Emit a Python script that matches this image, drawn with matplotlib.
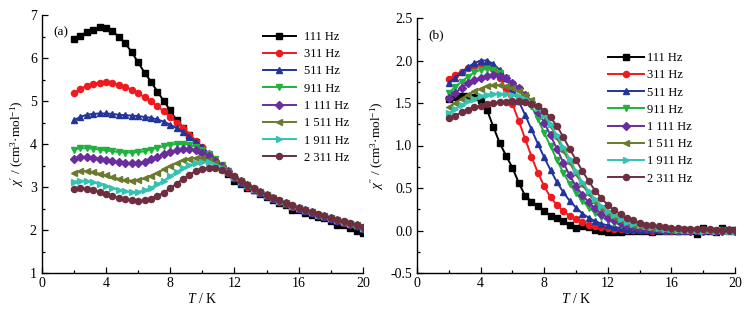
import matplotlib
matplotlib.use("Agg")
import matplotlib.pyplot as plt
from matplotlib.ticker import MultipleLocator

plt.rcParams['font.family'] = ['Liberation Serif', 'DejaVu Serif']
plt.rcParams['mathtext.fontset'] = 'custom'
plt.rcParams['mathtext.rm'] = 'Liberation Serif'
plt.rcParams['mathtext.it'] = 'Liberation Serif:italic'

# ---------------- data ----------------
T = [2.0, 2.4, 2.8, 3.2, 3.6, 4.0, 4.4, 4.8, 5.2, 5.6, 6.0, 6.4, 6.8, 7.2, 7.6, 8.0,
     8.4, 8.8, 9.2, 9.6, 10.0, 10.4, 10.8, 11.2, 11.6, 12.0, 12.4, 12.8, 13.2, 13.6,
     14.0, 14.4, 14.8, 15.2, 15.6, 16.0, 16.4, 16.8, 17.2, 17.6, 18.0, 18.4, 18.8,
     19.2, 19.6, 20.0]

labels = ["111 Hz", "311 Hz", "511 Hz", "911 Hz", "1 111 Hz", "1 511 Hz", "1 911 Hz", "2 311 Hz"]
colors = ["#000000", "#f0191e", "#23349b", "#1fb23c", "#6a2d9e", "#6b7a2c", "#36c2b0", "#6e2e40"]
markers = ["s", "o", "^", "v", "D", "<", ">", "o"]

# chi' (left panel)
chi1_111 = [6.45, 6.52, 6.60, 6.66, 6.71, 6.69, 6.62, 6.50, 6.34, 6.14, 5.90, 5.66, 5.45, 5.22, 5.00, 4.78,
            4.55, 4.38, 4.22, 4.05, 3.88, 3.70, 3.56, 3.42, 3.30, 3.15, 3.08, 2.98, 2.92, 2.84,
            2.76, 2.70, 2.62, 2.58, 2.46, 2.46, 2.40, 2.36, 2.30, 2.27, 2.22, 2.12, 2.11, 2.05, 1.98, 1.93]
chi1_311 = [5.18, 5.28, 5.35, 5.40, 5.43, 5.44, 5.42, 5.38, 5.33, 5.26, 5.18, 5.09, 4.99, 4.88, 4.76, 4.63,
            4.50, 4.37, 4.22, 4.07, 3.92, 3.77, 3.62, 3.48, 3.35, 3.20, 3.10, 3.01, 2.93, 2.86,
            2.79, 2.72, 2.66, 2.60, 2.54, 2.49, 2.44, 2.39, 2.34, 2.30, 2.25, 2.21, 2.17, 2.13, 2.09, 2.02]
chi1_511 = [4.55, 4.63, 4.68, 4.70, 4.71, 4.71, 4.70, 4.68, 4.67, 4.66, 4.65, 4.63, 4.61, 4.57, 4.52, 4.45,
            4.37, 4.28, 4.17, 4.05, 3.92, 3.78, 3.64, 3.50, 3.36, 3.20, 3.10, 3.02, 2.94, 2.87,
            2.80, 2.73, 2.67, 2.61, 2.55, 2.50, 2.45, 2.40, 2.35, 2.31, 2.26, 2.22, 2.18, 2.14, 2.10, 2.03]
chi1_911 = [3.87, 3.90, 3.90, 3.89, 3.87, 3.85, 3.83, 3.81, 3.80, 3.80, 3.81, 3.83, 3.87, 3.91, 3.95, 3.98,
            4.00, 4.00, 3.98, 3.93, 3.85, 3.76, 3.65, 3.52, 3.38, 3.24, 3.13, 3.04, 2.96, 2.88,
            2.81, 2.74, 2.68, 2.62, 2.56, 2.51, 2.46, 2.41, 2.36, 2.32, 2.27, 2.23, 2.19, 2.15, 2.11, 2.05]
chi1_1111 = [3.65, 3.69, 3.70, 3.68, 3.65, 3.62, 3.60, 3.57, 3.55, 3.55, 3.56, 3.59, 3.64, 3.70, 3.76, 3.81,
             3.86, 3.88, 3.88, 3.85, 3.79, 3.71, 3.61, 3.50, 3.37, 3.24, 3.13, 3.04, 2.96, 2.88,
             2.81, 2.74, 2.68, 2.62, 2.56, 2.51, 2.46, 2.41, 2.36, 2.32, 2.27, 2.23, 2.19, 2.15, 2.11, 2.05]
chi1_1511 = [3.33, 3.37, 3.37, 3.35, 3.31, 3.27, 3.23, 3.19, 3.16, 3.15, 3.16, 3.20, 3.26, 3.33, 3.41, 3.49,
             3.56, 3.62, 3.66, 3.68, 3.67, 3.63, 3.56, 3.47, 3.36, 3.24, 3.13, 3.04, 2.96, 2.88,
             2.81, 2.74, 2.68, 2.62, 2.56, 2.51, 2.46, 2.41, 2.36, 2.32, 2.27, 2.23, 2.19, 2.15, 2.11, 2.05]
chi1_1911 = [3.12, 3.15, 3.14, 3.11, 3.07, 3.02, 2.97, 2.93, 2.90, 2.88, 2.89, 2.92, 2.98, 3.06, 3.15, 3.25,
             3.35, 3.44, 3.51, 3.56, 3.58, 3.57, 3.52, 3.45, 3.35, 3.24, 3.13, 3.04, 2.96, 2.88,
             2.81, 2.74, 2.68, 2.62, 2.56, 2.51, 2.46, 2.41, 2.36, 2.32, 2.27, 2.23, 2.19, 2.15, 2.11, 2.05]
chi1_2311 = [2.95, 2.97, 2.96, 2.93, 2.89, 2.84, 2.79, 2.75, 2.71, 2.69, 2.68, 2.69, 2.73, 2.79, 2.87, 2.97,
             3.08, 3.19, 3.29, 3.37, 3.43, 3.45, 3.44, 3.40, 3.33, 3.25, 3.14, 3.05, 2.97, 2.89,
             2.82, 2.75, 2.69, 2.63, 2.57, 2.52, 2.47, 2.42, 2.37, 2.33, 2.28, 2.24, 2.20, 2.16, 2.12, 2.06]

# chi'' (right panel)
chi2_111 = [1.55, 1.57, 1.58, 1.58, 1.57, 1.53, 1.42, 1.22, 1.03, 0.88, 0.74, 0.56, 0.41, 0.34, 0.29, 0.23,
            0.17, 0.15, 0.11, 0.07, 0.03, 0.05, 0.04, 0.01, 0.00, -0.02, -0.02, -0.02, -0.01, -0.01,
            0.00, -0.01, -0.02, 0.00, 0.01, -0.01, 0.00, 0.01, -0.01, -0.04, 0.03, 0.00, -0.02, 0.03, 0.01, 0.01]
chi2_311 = [1.78, 1.83, 1.87, 1.91, 1.94, 1.96, 1.95, 1.90, 1.80, 1.66, 1.49, 1.29, 1.08, 0.87, 0.68, 0.52,
            0.39, 0.30, 0.23, 0.17, 0.13, 0.10, 0.07, 0.05, 0.04, 0.03, 0.02, 0.02, 0.01, 0.01,
            0.01, 0.01, 0.00, 0.01, 0.00, 0.00, 0.01, 0.00, 0.00, 0.01, 0.00, 0.01, 0.00, 0.00, 0.01, 0.00]
chi2_511 = [1.73, 1.80, 1.86, 1.92, 1.97, 2.00, 2.00, 1.96, 1.89, 1.79, 1.66, 1.52, 1.36, 1.19, 1.02, 0.86,
            0.71, 0.57, 0.45, 0.35, 0.27, 0.20, 0.15, 0.11, 0.08, 0.06, 0.04, 0.03, 0.02, 0.02,
            0.01, 0.01, 0.01, 0.01, 0.00, 0.01, 0.00, 0.00, 0.01, 0.00, 0.00, 0.01, 0.00, 0.01, 0.00, 0.00]
chi2_911 = [1.62, 1.69, 1.75, 1.81, 1.86, 1.89, 1.90, 1.89, 1.85, 1.79, 1.72, 1.66, 1.58, 1.46, 1.31, 1.15,
            0.99, 0.83, 0.68, 0.55, 0.44, 0.35, 0.27, 0.21, 0.16, 0.12, 0.09, 0.07, 0.05, 0.04,
            0.03, 0.02, 0.02, 0.01, 0.01, 0.01, 0.01, 0.00, 0.01, 0.00, 0.01, 0.00, 0.00, 0.01, 0.00, 0.00]
chi2_1111 = [1.56, 1.62, 1.68, 1.73, 1.77, 1.80, 1.82, 1.83, 1.82, 1.79, 1.74, 1.68, 1.60, 1.51, 1.40, 1.27,
             1.12, 0.96, 0.80, 0.65, 0.52, 0.42, 0.33, 0.26, 0.20, 0.15, 0.12, 0.09, 0.07, 0.05,
             0.04, 0.03, 0.02, 0.02, 0.01, 0.01, 0.01, 0.01, 0.00, 0.01, 0.00, 0.01, 0.00, 0.00, 0.01, 0.00]
chi2_1511 = [1.45, 1.50, 1.55, 1.60, 1.64, 1.67, 1.70, 1.71, 1.71, 1.70, 1.68, 1.64, 1.59, 1.53, 1.45, 1.35,
             1.23, 1.09, 0.94, 0.80, 0.66, 0.54, 0.43, 0.34, 0.27, 0.21, 0.16, 0.12, 0.09, 0.07,
             0.05, 0.04, 0.03, 0.02, 0.02, 0.01, 0.01, 0.01, 0.01, 0.00, 0.01, 0.00, 0.01, 0.00, 0.00, 0.01]
chi2_1911 = [1.38, 1.43, 1.48, 1.52, 1.55, 1.58, 1.60, 1.61, 1.61, 1.61, 1.60, 1.58, 1.55, 1.50, 1.44, 1.36,
             1.25, 1.12, 0.98, 0.84, 0.70, 0.57, 0.46, 0.37, 0.29, 0.23, 0.18, 0.14, 0.10, 0.08,
             0.06, 0.05, 0.04, 0.03, 0.02, 0.02, 0.01, 0.01, 0.01, 0.01, 0.00, 0.01, 0.00, 0.01, 0.00, 0.00]
chi2_2311 = [1.32, 1.35, 1.39, 1.42, 1.45, 1.47, 1.49, 1.50, 1.51, 1.51, 1.52, 1.52, 1.51, 1.49, 1.46, 1.41,
             1.33, 1.23, 1.10, 0.96, 0.83, 0.70, 0.58, 0.47, 0.38, 0.30, 0.24, 0.19, 0.15, 0.12,
             0.09, 0.07, 0.06, 0.05, 0.04, 0.03, 0.03, 0.02, 0.02, 0.02, 0.02, 0.02, 0.01, 0.01, 0.01, 0.01]

left_series = [chi1_111, chi1_311, chi1_511, chi1_911, chi1_1111, chi1_1511, chi1_1911, chi1_2311]
right_series = [chi2_111, chi2_311, chi2_511, chi2_911, chi2_1111, chi2_1511, chi2_1911, chi2_2311]

# ---------------- figure ----------------
W, H = 756, 315
fig = plt.figure(figsize=(W / 100, H / 100), dpi=100)
axL = fig.add_axes([41.7 / W, 1 - 273 / H, (363 - 41.7) / W, (273 - 15) / H])
axR = fig.add_axes([417 / W, 1 - 273 / H, (735 - 417) / W, (273 - 18) / H])


def style(ax):
    for s in ("top", "right"):
        ax.spines[s].set_visible(False)
    for s in ("left", "bottom"):
        ax.spines[s].set_linewidth(1.0)
    ax.tick_params(which="both", direction="in", labelsize=10, width=0.9)
    ax.tick_params(which="major", length=4.5)
    ax.tick_params(which="minor", length=2.5)
    ax.tick_params(axis="x", pad=3)
    ax.set_xlim(0, 20)
    ax.xaxis.set_major_locator(MultipleLocator(4))
    ax.xaxis.set_minor_locator(MultipleLocator(2))
    ax.set_xlabel(r"$T$ / K", fontsize=10, labelpad=1)


for ax, series in ((axL, left_series), (axR, right_series)):
    for y, lab, c, m in zip(series, labels, colors, markers):
        ms = 4.4 if m != "D" else 3.6
        ax.plot(T, y, color=c, marker=m, markersize=ms, markeredgecolor=c,
                markerfacecolor=c, linewidth=1.4, label=lab)
    style(ax)

axL.set_ylim(1, 7)
axL.yaxis.set_major_locator(MultipleLocator(1))
axL.yaxis.set_minor_locator(MultipleLocator(0.5))
axL.set_ylabel(r"$\chi'$ / (cm$^{3}$·mol$^{-1}$)", fontsize=9.5, labelpad=3)
axL.text(0.035, 0.955, "(a)", transform=axL.transAxes, fontsize=9.5, va="top", ha="left")

axR.set_ylim(-0.5, 2.5)
axR.yaxis.set_major_locator(MultipleLocator(0.5))
axR.yaxis.set_minor_locator(MultipleLocator(0.25))
axR.yaxis.set_major_formatter(matplotlib.ticker.FormatStrFormatter("%.1f"))
axR.set_ylabel(r"$\chi''$ / (cm$^{3}$·mol$^{-1}$)", fontsize=9.5, labelpad=3)
axR.text(0.035, 0.955, "(b)", transform=axR.transAxes, fontsize=9.5, va="top", ha="left")

axL.legend(loc="upper left", bbox_to_anchor=(263 / W, 1 - 31 / H), bbox_transform=fig.transFigure,
           frameon=False, fontsize=9, handlelength=2.6, handletextpad=0.7,
           labelspacing=0.42, borderpad=0, borderaxespad=0)
axR.legend(loc="upper left", bbox_to_anchor=(608 / W, 1 - 52 / H), bbox_transform=fig.transFigure,
           frameon=False, fontsize=9, handlelength=2.9, handletextpad=0.2,
           labelspacing=0.42, borderpad=0, borderaxespad=0)

fig.savefig("out.png", dpi=100)
